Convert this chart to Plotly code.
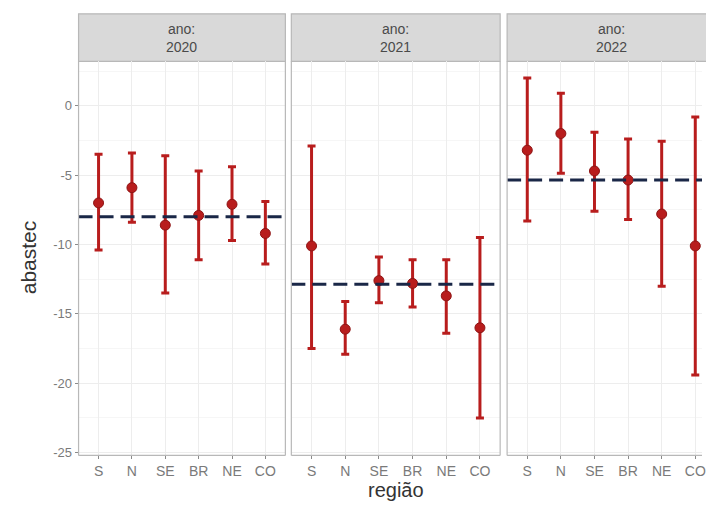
import plotly.graph_objects as go

regioes = ["S", "N", "SE", "BR", "NE", "CO"]
anos = ["2020", "2021", "2022"]

media = {
    "2020": [-7.0, -5.9, -8.6, -7.9, -7.1, -9.2],
    "2021": [-10.1, -16.1, -12.6, -12.8, -13.7, -16.0],
    "2022": [-3.2, -2.0, -4.7, -5.35, -7.8, -10.1],
}
superior = {
    "2020": [-3.5, -3.4, -3.6, -4.7, -4.4, -6.9],
    "2021": [-2.9, -14.1, -10.9, -11.1, -11.1, -9.5],
    "2022": [2.0, 0.9, -1.9, -2.4, -2.55, -0.8],
}
inferior = {
    "2020": [-10.4, -8.4, -13.5, -11.1, -9.7, -11.4],
    "2021": [-17.5, -17.9, -14.2, -14.5, -16.4, -22.5],
    "2022": [-8.3, -4.86, -7.6, -8.2, -13.0, -19.4],
}
linha_ref = {"2020": -8.0, "2021": -12.86, "2022": -5.35}

y_ticks = [0, -5, -10, -15, -20, -25]
y_ticktext = ["0", "-5", "-10", "-15", "-20", "-25"]

W, H = 706, 507
RED = "#B81D1D"
NAVY = "#1A2747"
GRID = "#EDEDED"
BORDER = "#B8B8B8"
FONT = "Liberation Sans, Arial"


def px_x(p):
    return p / W


def px_y(p):
    return 1 - p / H


panels_px = [(79, 287), (293, 503), (510, 706)]
plot_top, plot_bot = 62, 460
strip_top = 14
x_ranges = [[-0.6, 5.6], [-0.6, 5.6], [-0.6, 5.2]]
y_range = [-25.2, 3.2]

fig = go.Figure()
shapes = []
annotations = []

ydom = [px_y(plot_bot), px_y(plot_top)]

for i, ano in enumerate(anos):
    n = "" if i == 0 else str(i + 1)
    xa, ya = "x" + n, "y" + n
    m = media[ano]
    up = [s - v for s, v in zip(superior[ano], m)]
    dn = [v - s for s, v in zip(inferior[ano], m)]
    fig.add_trace(go.Scatter(
        x=regioes, y=m, xaxis=xa, yaxis=ya, mode="markers",
        marker=dict(color=RED, size=10, line=dict(color="#8E1414", width=1)),
        error_y=dict(type="data", array=up, arrayminus=dn, color=RED,
                     thickness=3, width=4),
        showlegend=False, cliponaxis=False, hoverinfo="skip",
    ))
    x0, x1 = panels_px[i]
    dom = [px_x(x0), min(1.0, px_x(x1))]
    fig.layout["xaxis" + n] = dict(
        domain=dom, range=x_ranges[i], anchor=ya, type="category",
        categoryorder="array", categoryarray=regioes,
        showgrid=True, gridcolor=GRID, gridwidth=1,
        ticks="outside", ticklen=3, tickcolor="#8A8A8A",
        tickfont=dict(family=FONT, size=14, color="#7A7A7A"),
        zeroline=False, showline=False, fixedrange=True,
    )
    fig.layout["yaxis" + n] = dict(
        domain=ydom, range=y_range, anchor=xa,
        tickvals=y_ticks, ticktext=y_ticktext,
        showticklabels=(i == 0),
        ticks="outside" if i == 0 else "", ticklen=3, tickcolor="#8A8A8A",
        tickfont=dict(family=FONT, size=13, color="#7A7A7A"),
        showgrid=True, gridcolor=GRID, gridwidth=1,
        minor=dict(showgrid=True, gridcolor="#F6F6F6", gridwidth=1,
                   tick0=-2.5, dtick=5),
        zeroline=False, showline=False, fixedrange=True,
    )
    shapes.append(dict(type="line", xref=xa + " domain", yref=ya,
                       x0=0, x1=1, y0=linha_ref[ano], y1=linha_ref[ano],
                       line=dict(color=NAVY, width=3, dash="14px,7px"),
                       layer="above"))
    px0, px1 = dom
    pyb, pyt = ydom
    bl = dict(color=BORDER, width=1.2)
    shapes.append(dict(type="line", xref="paper", yref="paper", x0=px0, x1=px1, y0=pyb, y1=pyb, line=bl, layer="above"))
    shapes.append(dict(type="line", xref="paper", yref="paper", x0=px0, x1=px0, y0=pyb, y1=pyt, line=bl, layer="above"))
    if i < 2:
        shapes.append(dict(type="line", xref="paper", yref="paper", x0=px1, x1=px1, y0=pyb, y1=pyt, line=bl, layer="above"))
    st = px_y(strip_top)
    shapes.append(dict(type="rect", xref="paper", yref="paper", x0=px0, x1=px1 + (0.01 if i == 2 else 0),
                       y0=pyt, y1=st, fillcolor="#D9D9D9",
                       line=dict(color=BORDER, width=1.2), layer="below"))
    cx = (x0 + x1) / 2 if i < 2 else (x0 + 720) / 2
    annotations.append(dict(xref="paper", yref="paper", x=px_x(cx), y=(pyt + st) / 2,
                            text="ano:<br>" + ano, showarrow=False,
                            xanchor="center", yanchor="middle",
                            font=dict(family=FONT, size=14, color="#4A4A4A")))

annotations.append(dict(xref="paper", yref="paper", x=px_x(29), y=px_y(260),
                        text="abastec", textangle=-90, showarrow=False,
                        xanchor="center", yanchor="middle",
                        font=dict(family=FONT, size=21, color="#333333")))
annotations.append(dict(xref="paper", yref="paper", x=px_x(398), y=px_y(495),
                        text="região", showarrow=False,
                        xanchor="center", yanchor="middle",
                        font=dict(family=FONT, size=20, color="#333333")))

fig.update_layout(
    width=W, height=H, margin=dict(l=0, r=0, t=0, b=0),
    paper_bgcolor="white", plot_bgcolor="white",
    shapes=shapes, annotations=annotations, showlegend=False,
)
fig.write_html(
    "out.html",
    config={"displayModeBar": False},
    post_script="document.body.style.margin='0';document.body.style.overflow='hidden';",
)
